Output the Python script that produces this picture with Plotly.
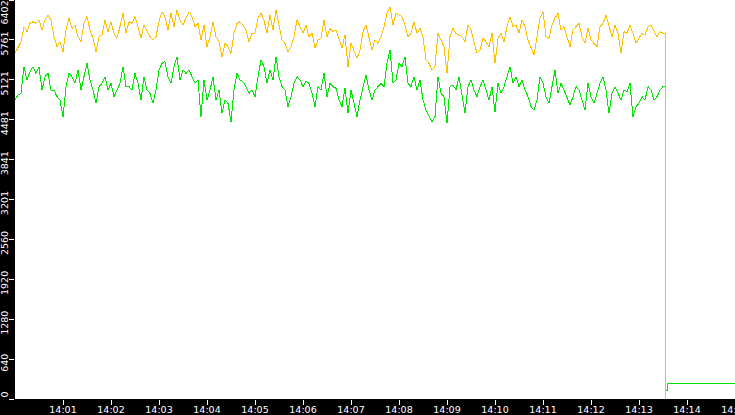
import pandas as pd
import plotly.graph_objects as go

# ---- data ----
start_time = "2024-01-01 14:00:00"
sample_step_s = 3.75

orange_values = [
    5546,5653,5733,5974,5894,6028,6054,6028,6081,5921,6081,6161,6081,5814,5653,5733,5573,5921,6108,5947,6001,5814,5733,6028,6135,5921,5787,5573,5814,5840,6081,5894,6054,5867,5787,5974,6188,5867,
    6054,6028,6135,5974,5787,6001,5894,5814,5760,5814,6054,6215,6135,5921,6188,5974,6242,6081,6001,6108,6215,6135,5974,6028,5760,6001,5653,5814,6054,5814,5733,5493,5707,5653,5546,5867,
    6028,6054,6001,5921,5733,5867,5867,6108,6188,6081,5867,6161,5921,6242,5974,5760,5707,5573,5653,5814,6081,5974,5867,6001,5814,5867,5627,5760,5787,6081,5814,5947,5894,5921,5760,5627,5840,
    5332,5707,5600,5466,5600,5894,6001,5814,5600,5760,5707,5814,5974,6188,6295,6001,6188,6161,6135,6001,5814,5867,6054,5867,5947,5814,5439,5386,5279,5332,5867,5760,5653,5225,5814,5947,5867,
    5840,5814,5733,6001,5921,5707,5546,5600,5787,5733,5653,5867,5386,5787,5867,5733,5974,6135,5974,6001,5867,6081,5974,5760,5653,5520,5814,6108,6215,5814,5787,6001,6108,6188,5921,5974,
    5814,5653,5921,5974,6028,5814,5707,5947,5760,5707,5653,5974,6028,6161,5974,5814,6001,5867,5546,5894,5867,6001,5867,5707,5787,5867,5840,5974,6001,5894,5814,5894,5867,
]
green_values = [
    4798,4878,4904,5332,5118,5252,5332,5225,5332,4958,5172,5225,4958,4958,4851,4798,4530,5011,5225,5172,5065,5279,4958,5172,5386,5118,4958,4744,5011,5065,5172,4958,5065,4851,4958,5065,5332,5011,
    5011,4958,5225,5065,4798,5172,4958,4904,4744,4958,5279,5386,5413,5172,5065,5332,5493,5118,5279,5225,5279,5172,5065,5118,4530,5118,4798,4958,5172,4798,4958,4584,4798,4744,4450,4958,
    5225,5118,5092,5011,4904,4958,4851,5172,5439,5332,5065,5279,5118,5493,5172,5011,4958,4691,4851,5065,5172,5118,5011,5092,5065,4904,4691,5011,4958,5225,4851,5065,5011,4985,4798,4691,4985,
    4584,4958,4744,4530,4798,5011,5199,4958,4798,4958,5011,5065,5011,5386,5600,5065,5118,5386,5332,5493,5065,5011,5172,4958,5118,4798,4637,4530,4450,4530,5172,4904,4851,4423,5011,5038,4958,
    5172,4851,4584,5011,5118,4958,4851,5011,5118,4958,4798,5011,4610,5065,4904,5011,5172,5332,5065,5172,5011,5118,4958,4851,4691,4637,4798,5172,5065,4851,4744,5011,5279,4904,5065,4958,
    4851,4717,4851,5011,4958,4798,4637,5065,4851,4744,4904,5065,5172,4958,4584,4904,5011,4904,4798,4958,4931,5065,4530,4691,4744,4851,4798,5011,4958,4798,4851,4958,5011,
]
# end of the recording: both series collapse
orange_tail_s = [813.0, 813.0]
orange_tail_values = [5870, 0]
green_tail_s = [813.0, 813.0, 813.0, 815.0, 815.0, 900.0]
green_tail_values = [5011, 2500, 130, 130, 256, 256]

y_max = 6402
y_tick_values = [0, 640.2, 1280.4, 1920.6, 2560.8, 3201, 3841.2, 4481.4, 5121.6, 5761.8, 6402]
y_tick_labels = ["0", "640", "1280", "1920", "2560", "3201", "3841", "4481", "5121", "5761", "6402"]
x_tick_labels = ["14:01", "14:02", "14:03", "14:04", "14:05", "14:06", "14:07", "14:08",
                 "14:09", "14:10", "14:11", "14:12", "14:13", "14:14", "14:15"]

# ---- build ----
t0 = pd.Timestamp(start_time)
def times(seconds):
    return [t0 + pd.Timedelta(seconds=s) for s in seconds]

sample_s = [i * sample_step_s for i in range(len(orange_values))]
orange_x = times(sample_s + orange_tail_s)
orange_y = orange_values + orange_tail_values
green_x = times(sample_s + green_tail_s)
green_y = green_values + green_tail_values

x_tick_vals = [t0 + pd.Timedelta(minutes=i + 1) for i in range(len(x_tick_labels))]

# inner y labels are axis tick labels; the two end labels are kept inside the plot height
y_axis_text = [""] + y_tick_labels[1:-1] + [""]

fig = go.Figure()
fig.add_trace(go.Scatter(x=green_x, y=green_y, mode="lines",
                         line=dict(color="#00E600", width=1), hoverinfo="skip"))
fig.add_trace(go.Scatter(x=orange_x, y=orange_y, mode="lines",
                         line=dict(color="#FFC000", width=1), hoverinfo="skip"))

label_font = dict(family="DejaVu Sans", size=9.5, color="white")
fig.update_layout(
    width=735, height=415,
    margin=dict(l=15, r=0, t=0, b=16, pad=0),
    paper_bgcolor="black", plot_bgcolor="white",
    showlegend=False,
    xaxis=dict(
        range=[t0, t0 + pd.Timedelta(minutes=15)],
        tickmode="array", tickvals=x_tick_vals, ticktext=x_tick_labels,
        ticks="outside", ticklen=5, tickcolor="white", tickwidth=1,
        tickfont=label_font, ticklabeloverflow="allow",
        showgrid=False, zeroline=False, showline=False,
        automargin=False, ticklabelstandoff=-3,
    ),
    yaxis=dict(
        range=[0, y_max],
        tickmode="array", tickvals=y_tick_values, ticktext=y_axis_text,
        ticks="outside", ticklen=5, tickcolor="white", tickwidth=1,
        tickfont=label_font, ticklabeloverflow="allow",
        tickangle=-90, ticklabelshift=5, ticklabelstandoff=-3,
        showgrid=False, zeroline=False, showline=False,
        automargin=False,
    ),
)
fig.add_annotation(text=y_tick_labels[-1], xref="paper", yref="paper", x=0, y=1,
                   xanchor="right", yanchor="top", xshift=-5, textangle=-90,
                   showarrow=False, font=label_font, borderpad=0)
fig.add_annotation(text=y_tick_labels[0], xref="paper", yref="paper", x=0, y=0,
                   xanchor="right", yanchor="bottom", xshift=-5, textangle=-90,
                   showarrow=False, font=label_font, borderpad=0)
fig.write_html(
    "out.html",
    config={"displayModeBar": False},
    post_script=(
        "document.body.style.margin='0';document.body.style.background='black';"
        "document.querySelectorAll('.scatterlayer path').forEach(function(p){"
        "p.style.shapeRendering='crispEdges';});"
    ),
)
